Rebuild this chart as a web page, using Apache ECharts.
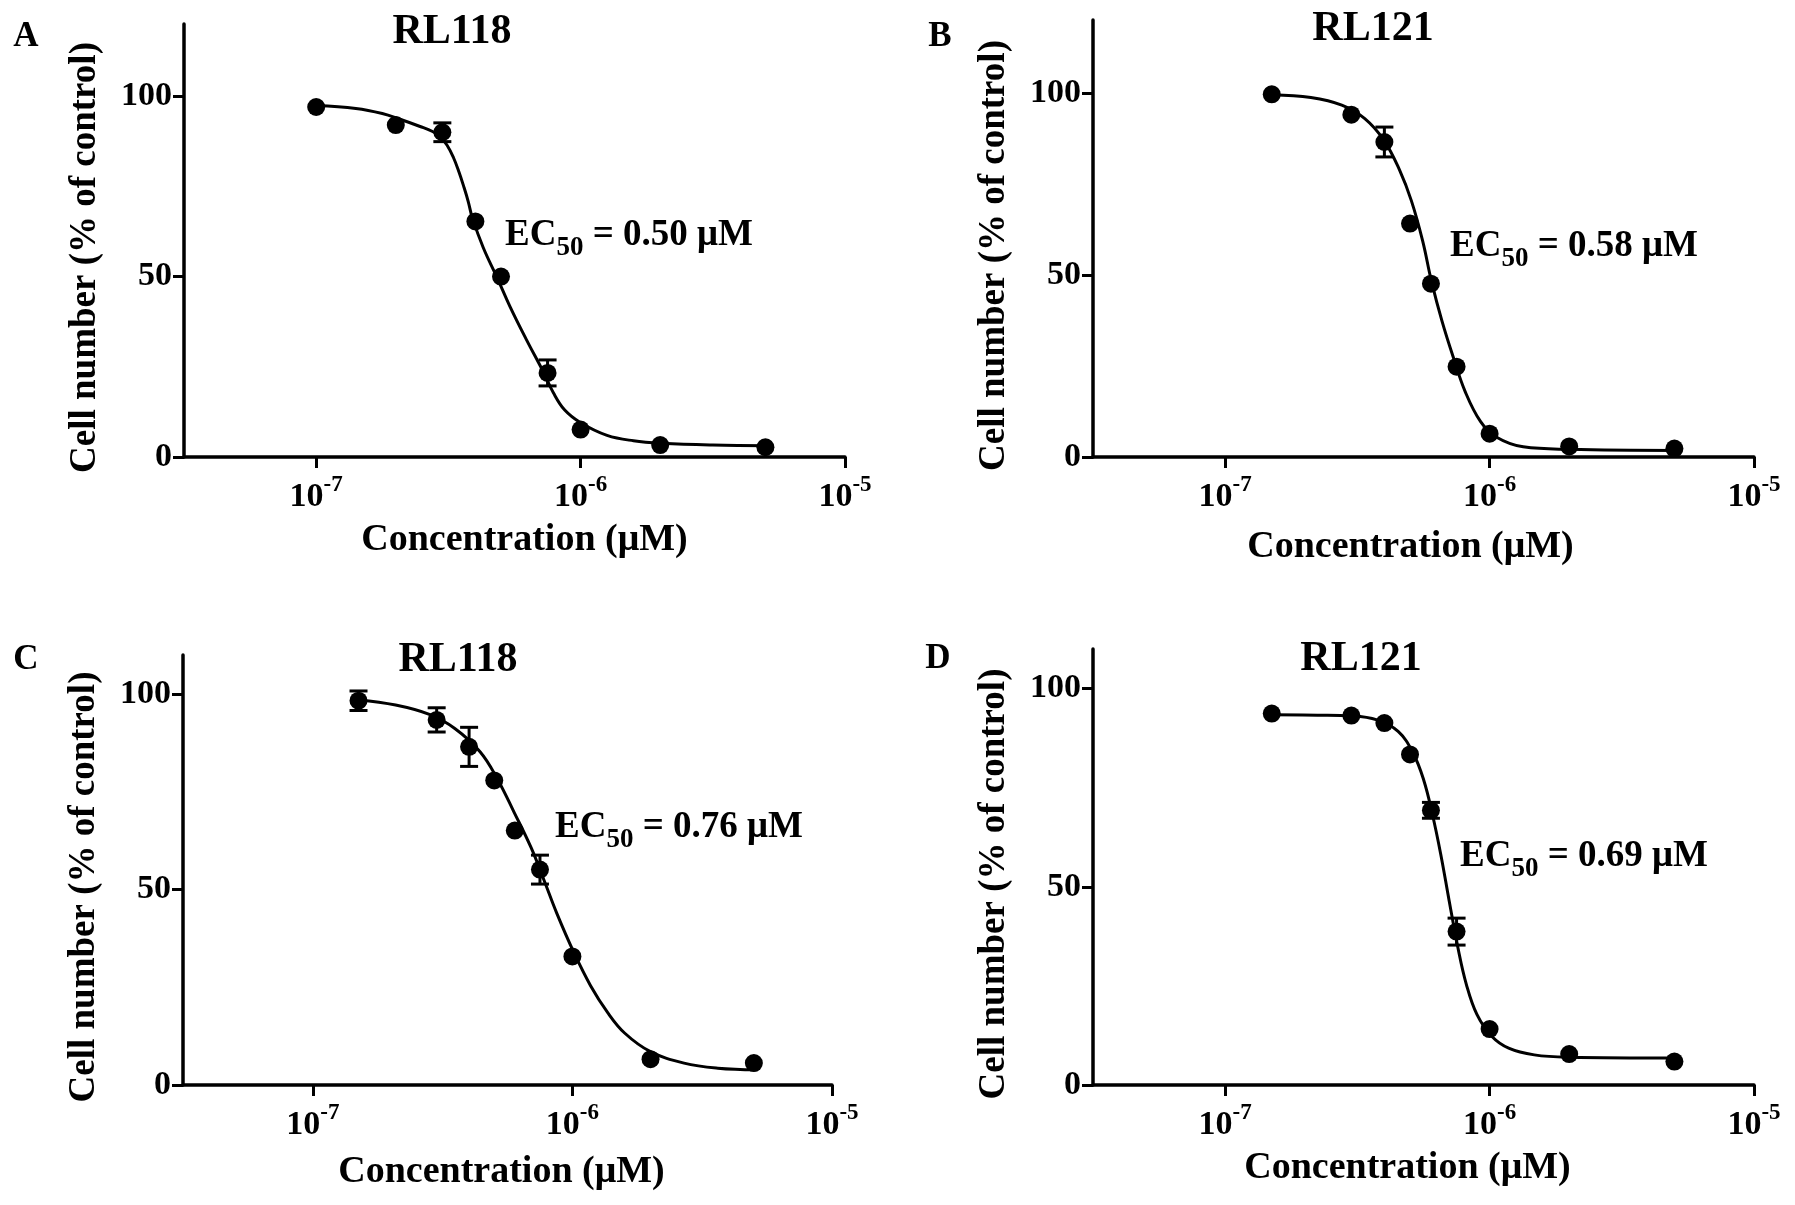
<!DOCTYPE html>
<html>
<head>
<meta charset="utf-8">
<script src="https://cdn.jsdelivr.net/npm/echarts@6.0.0/dist/echarts.min.js"></script>
<style>
html,body{margin:0;padding:0;background:#fff;}
#chart{width:1795px;height:1205px;}
</style>
</head>
<body>
<div id="chart"></div>
<script>
// ---------- DATA ----------
const panelLetters = ['A', 'B', 'C', 'D'];
const panelTitles = ['RL118', 'RL121', 'RL118', 'RL121'];
const ec50Values = ['0.50', '0.58', '0.76', '0.69'];
const xTickExponents = [-7, -6, -5];
const yTickValues = [0, 50, 100];

// Panel A
const concA = [1e-7, 2e-7, 3e-7, 4e-7, 5e-7, 7.5e-7, 1e-6, 2e-6, 5e-6];
const meanA = [97, 92, 90, 65.3, 50, 23.3, 7.6, 3.3, 2.7];
const semA  = [0, 0, 2.6, 0, 0, 3.6, 0, 0, 0];
const curveLogA = [-7.0, -6.85, -6.75, -6.683, -6.607, -6.56, -6.532, -6.505, -6.481, -6.46, -6.443, -6.425, -6.410, -6.368, -6.315, -6.267, -6.204, -6.141, -6.103, -6.06, -6.0, -5.9, -5.8, -5.692, -5.5, -5.293];
const curveValA = [97.4, 96.6, 95.2, 93.6, 91.6, 90.2, 88.8, 86.4, 83.0, 79.0, 75.2, 70.8, 66.4, 58.0, 49.6, 41.7, 32.4, 23.6, 17.8, 13.0, 9.5, 6.0, 4.5, 3.8, 3.3, 3.1];

// Panel B
const concB = [1.5e-7, 3e-7, 4e-7, 5e-7, 6e-7, 7.5e-7, 1e-6, 2e-6, 5e-6];
const meanB = [99.6, 94.0, 86.5, 64.1, 47.6, 24.8, 6.4, 2.9, 2.3];
const semB  = [0, 0, 4.1, 0, 0, 0, 0, 0, 0];
const curveLogB = [-6.822, -6.676, -6.559, -6.472, -6.399, -6.340, -6.296, -6.253, -6.220, -6.180, -6.136, -6.092, -6.034, -5.975, -5.873, -5.698, -5.296];
const curveValB = [99.5, 98.7, 96.6, 92.9, 86.9, 78.7, 70.4, 59.3, 48.3, 37.3, 27.1, 17.9, 9.7, 5.5, 2.8, 2.1, 1.8];

// Panel C
const concC = [1.5e-7, 3e-7, 4e-7, 5e-7, 6e-7, 7.5e-7, 1e-6, 2e-6, 5e-6];
const meanC = [98.3, 93.4, 86.5, 77.9, 65.1, 55.1, 32.9, 6.6, 5.6];
const semC  = [2.5, 3.1, 5.0, 0, 0, 3.7, 0, 0, 0];
const curveLogC = [-6.825, -6.681, -6.551, -6.453, -6.355, -6.289, -6.224, -6.159, -6.110, -6.060, -5.995, -5.930, -5.864, -5.799, -5.701, -5.570, -5.440, -5.292];
const curveValC = [98.5, 97.2, 94.8, 91.2, 85.2, 78.3, 69.7, 60.7, 52.5, 43.9, 34.0, 25.4, 18.5, 13.3, 8.6, 5.6, 4.3, 3.9];

// Panel D
const concD = [1.5e-7, 3e-7, 4e-7, 5e-7, 6e-7, 7.5e-7, 1e-6, 2e-6, 5e-6];
const meanD = [93.7, 93.2, 91.3, 83.4, 69.3, 38.7, 14.1, 7.8, 5.9];
const semD  = [0, 0, 0, 0, 2.0, 3.4, 0, 0, 0];
const curveLogD = [-6.822, -6.651, -6.523, -6.426, -6.346, -6.289, -6.249, -6.217, -6.185, -6.153, -6.120, -6.088, -6.048, -5.992, -5.928, -5.831, -5.699, -5.304];
const curveValD = [93.4, 93.3, 93.1, 92.1, 89.2, 83.7, 76.9, 68.5, 58.3, 46.5, 34.7, 25.4, 17.8, 12.3, 9.3, 7.6, 7.0, 6.8];

// ---------- LAYOUT / STYLE ----------
const FONT = '"Liberation Serif", "Times New Roman", serif';
const grids = [
  {left: 184, right: 950, top: 24, bottom: 748, yMax: 120},
  {left: 1093, right: 41, top: 20, bottom: 748, yMax: 120},
  {left: 183, right: 963, top: 655, bottom: 120, yMax: 110},
  {left: 1093, right: 41, top: 649, bottom: 120, yMax: 110}
];
const letterPos = [[26, 37], [940, 37], [26, 660], [938, 659]];
const titlePos = [[452, 32], [1373, 29], [458, 660], [1361, 659]];
const ecPos = [[505, 235], [1450, 246], [555, 827], [1460, 856]];
const xNameShift = [[10, 0], [-13, 7], [-6, 4], [-16, 0]];

const panelsData = [
  {conc: concA, mean: meanA, sem: semA, cx: curveLogA, cy: curveValA},
  {conc: concB, mean: meanB, sem: semB, cx: curveLogB, cy: curveValB},
  {conc: concC, mean: meanC, sem: semC, cx: curveLogC, cy: curveValC},
  {conc: concD, mean: meanD, sem: semD, cx: curveLogD, cy: curveValD}
];

const option = {
  backgroundColor: '#fff',
  animation: false,
  grid: [], xAxis: [], yAxis: [], series: [], graphic: []
};

grids.forEach((g, i) => {
  const sh = xNameShift[i];
  option.grid.push({left: g.left, right: g.right, top: g.top, bottom: g.bottom, containLabel: false});
  option.xAxis.push({
    type: 'value', gridIndex: i, min: -7.5, max: -5,
    name: 'Concentration (μM)', nameLocation: 'middle', nameGap: 64,
    nameTextStyle: {
      fontFamily: FONT, fontWeight: 'bold', fontSize: 38, color: '#000',
      padding: [sh[1], sh[0] < 0 ? -2 * sh[0] : 0, 0, sh[0] > 0 ? 2 * sh[0] : 0]
    },
    axisLine: {onZero: false, lineStyle: {color: '#000', width: 3.5}},
    axisTick: {show: true, customValues: xTickExponents, length: 11, lineStyle: {color: '#000', width: 3}},
    axisLabel: {
      customValues: xTickExponents, margin: 17, color: '#000',
      formatter: v => '{b|10}{s|' + v + '}',
      rich: {
        b: {fontFamily: FONT, fontWeight: 'bold', fontSize: 34, color: '#000', lineHeight: 46},
        s: {fontFamily: FONT, fontWeight: 'bold', fontSize: 23, color: '#000', verticalAlign: 'top', lineHeight: 46}
      }
    },
    splitLine: {show: false}
  });
  option.yAxis.push({
    type: 'value', gridIndex: i, min: 0, max: g.yMax,
    name: 'Cell number (% of control)', nameLocation: 'middle', nameGap: 80,
    nameTextStyle: {fontFamily: FONT, fontWeight: 'bold', fontSize: 37, color: '#000', padding: [0, 34, 0, 0]},
    axisLine: {show: true, lineStyle: {color: '#000', width: 3.5}},
    axisTick: {show: true, customValues: yTickValues, length: 11, lineStyle: {color: '#000', width: 3}},
    axisLabel: {customValues: yTickValues, margin: 12, fontFamily: FONT, fontWeight: 'bold', fontSize: 34, color: '#000'},
    splitLine: {show: false}
  });

  const d = panelsData[i];
  const curve = d.cx.map((x, k) => [x, d.cy[k]]);
  const pts = d.conc.map((c, k) => [Math.log10(c), d.mean[k], d.sem[k]]);

  option.series.push({
    type: 'line', xAxisIndex: i, yAxisIndex: i, data: curve,
    smooth: 0.4, showSymbol: false, silent: true,
    lineStyle: {color: '#000', width: 3}, z: 2
  });
  option.series.push({
    type: 'custom', xAxisIndex: i, yAxisIndex: i, data: pts,
    encode: {x: 0, y: 1}, z: 3, silent: true,
    renderItem: (params, api) => {
      const x = api.value(0), m = api.value(1), e = api.value(2);
      if (!e) return null;
      const t = api.coord([x, m + e]);
      const b = api.coord([x, m - e]);
      const cw = 9;
      const st = {stroke: '#000', lineWidth: 3};
      return {type: 'group', children: [
        {type: 'line', shape: {x1: t[0], y1: t[1], x2: b[0], y2: b[1]}, style: st},
        {type: 'line', shape: {x1: t[0] - cw, y1: t[1], x2: t[0] + cw, y2: t[1]}, style: st},
        {type: 'line', shape: {x1: b[0] - cw, y1: b[1], x2: b[0] + cw, y2: b[1]}, style: st}
      ]};
    }
  });
  option.series.push({
    type: 'scatter', xAxisIndex: i, yAxisIndex: i, data: pts,
    symbol: 'circle', symbolSize: 18, itemStyle: {color: '#000', opacity: 1}, z: 4, silent: true
  });

  option.graphic.push({
    type: 'text', x: letterPos[i][0], y: letterPos[i][1],
    style: {text: panelLetters[i], font: 'bold 35px ' + FONT, fill: '#000', align: 'center', verticalAlign: 'middle'}
  });
  option.graphic.push({
    type: 'text', x: titlePos[i][0], y: titlePos[i][1],
    style: {text: panelTitles[i], font: 'bold 42px ' + FONT, fill: '#000', align: 'center', verticalAlign: 'middle'}
  });
  option.graphic.push({
    type: 'text', x: ecPos[i][0], y: ecPos[i][1],
    style: {
      text: '{n|EC}{s|50}{n| = ' + ec50Values[i] + ' μM}',
      align: 'left', verticalAlign: 'middle',
      rich: {
        n: {fontFamily: FONT, fontWeight: 'bold', fontSize: 37, fill: '#000', lineHeight: 54},
        s: {fontFamily: FONT, fontWeight: 'bold', fontSize: 27, fill: '#000', lineHeight: 54, verticalAlign: 'bottom'}
      }
    }
  });
});

const chart = echarts.init(document.getElementById('chart'), null, {renderer: 'canvas'});
chart.setOption(option);
</script>
</body>
</html>
